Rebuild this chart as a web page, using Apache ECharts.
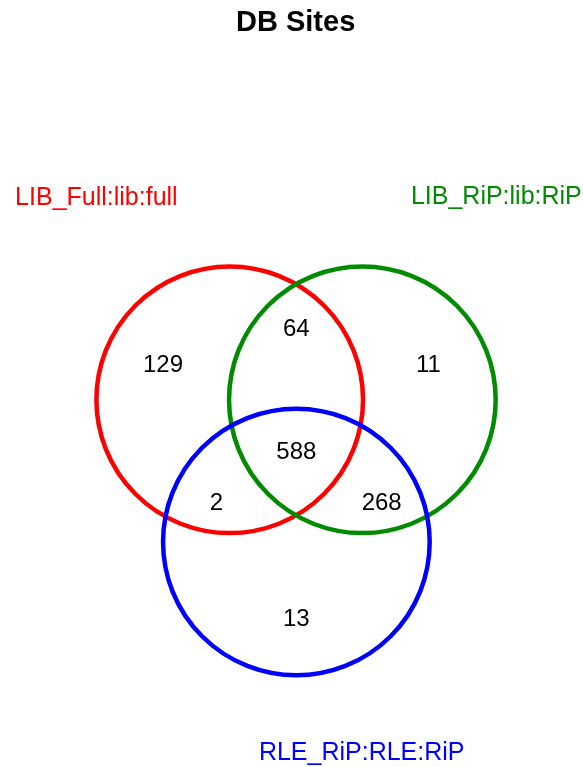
<!DOCTYPE html>
<html>
<head>
<meta charset="utf-8">
<script src="https://cdn.jsdelivr.net/npm/echarts@6/dist/echarts.min.js"></script>
<style>
  html, body { margin: 0; padding: 0; background: #fff; }
  #chart { width: 583px; height: 767px; }
</style>
</head>
<body>
<div id="chart"></div>
<script>
// sets (circle centres / radius in radius units)
const setNames = ['LIB_Full:lib:full', 'LIB_RiP:lib:RiP', 'RLE_RiP:RLE:RiP'];
const setColors = ['#ff0000', '#008b00', '#0000ff'];
const circleX = [0, 0.995, 0.5];
const circleY = [0, 0, 1.067];
const circleR = [1, 1, 1];
const setLabelX = [-1.0, 2.0, 0.99];
const setLabelY = [-1.51, -1.52, 2.65];

// region counts
const regionCounts = [129, 64, 11, 588, 2, 268, 13];
const countX = [-0.50, 0.5, 1.49, 0.5, -0.10, 1.14, 0.5];
const countY = [-0.255, -0.525, -0.255, 0.395, 0.775, 0.775, 1.645];

var myChart = echarts.init(document.getElementById('chart'));

var circles = circleX.map((x, i) => [x, circleY[i], circleR[i]]);
var counts = regionCounts.map((v, i) => ({ value: [countX[i], countY[i]], name: String(v) }));
var labels = setNames.map((n, i) => ({
  value: [setLabelX[i], setLabelY[i]],
  name: n,
  label: { color: setColors[i] }
}));

var option = {
  animation: false,
  textStyle: { fontFamily: 'Liberation Sans, Arial, sans-serif' },
  title: {
    text: 'DB Sites',
    left: 236,
    top: 8,
    padding: 0,
    textStyle: { fontSize: 29, fontWeight: 'bold', color: '#000', fontFamily: 'Liberation Sans, Arial, sans-serif' }
  },
  grid: { left: 0, right: 0, top: 0, bottom: 0 },
  xAxis: { type: 'value', min: -1.723, max: 2.650, show: false },
  yAxis: { type: 'value', min: -2.999, max: 2.755, inverse: true, show: false },
  series: [
    {
      type: 'custom',
      data: circles,
      renderItem: function (params, api) {
        var c = api.coord([api.value(0), api.value(1)]);
        var r = api.size([api.value(2), 0])[0];
        return {
          type: 'circle',
          shape: { cx: c[0], cy: c[1], r: r },
          style: { fill: 'none', stroke: setColors[params.dataIndex], lineWidth: 4.5 }
        };
      },
      z: 2
    },
    {
      type: 'scatter',
      data: counts,
      symbolSize: 0,
      itemStyle: { opacity: 1 },
      label: {
        show: true,
        position: 'inside',
        formatter: '{b}',
        fontSize: 24,
        color: '#000',
        textBorderWidth: 0
      },
      z: 3
    },
    {
      type: 'scatter',
      data: labels,
      symbolSize: 0,
      itemStyle: { opacity: 1 },
      label: {
        show: true,
        position: 'inside',
        formatter: '{b}',
        fontSize: 25,
        textBorderWidth: 0
      },
      z: 3
    }
  ]
};
myChart.setOption(option);
</script>
</body>
</html>
